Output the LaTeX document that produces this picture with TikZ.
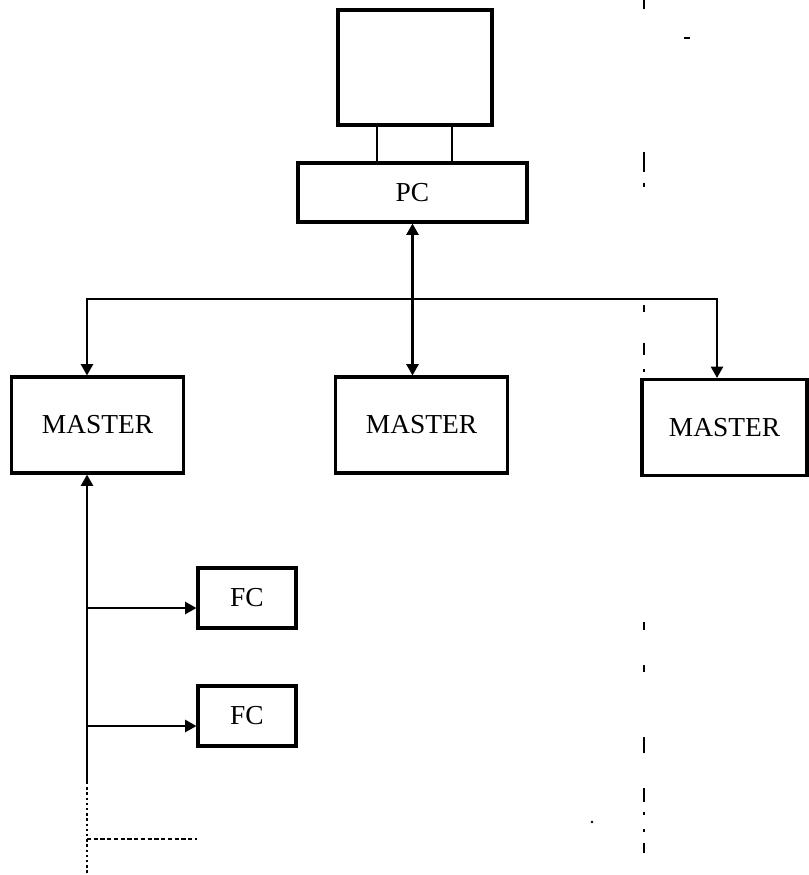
\documentclass[tikz,border=0pt]{standalone}
\usepackage{fontspec}
\setmainfont{Liberation Serif}
\usetikzlibrary{arrows.meta, positioning, calc}

\begin{document}
\begin{tikzpicture}[
    x=0.25mm, y=-0.25mm,
    every node/.style={font=\fontsize{19.5}{22}\selectfont},
    box/.style={rectangle, draw, line width=2.2pt, inner sep=0pt, align=center},
    master/.style={box, minimum width=4.3cm, minimum height=2.4cm},
    fcbox/.style={box, minimum width=2.45cm, minimum height=1.5cm},
    link/.style={line width=1.7pt},
    arrow/.style={link, -{Triangle[length=8pt, width=8.5pt]}},
    dblarrow/.style={link, {Triangle[length=8pt, width=8.5pt]}-{Triangle[length=8pt, width=8.5pt]}},
    scan/.style={line width=1.3pt}
]
\useasboundingbox (0,0) rectangle (809,875);

% ============ PC WITH MONITOR ============
\node[box, minimum width=3.85cm, minimum height=2.875cm] (monitor) at (415,67.5) {};
\node[box, minimum width=5.725cm, minimum height=1.475cm] (pc) at (412.5,192.5) {PC};

% Monitor stand
\coordinate (standL) at ($(monitor.south)+(-38,0)$);
\coordinate (standR) at ($(monitor.south)+(37,0)$);
\draw[link] (standL) -- (standL |- pc.north);
\draw[link] (standR) -- (standR |- pc.north);

% ============ MASTERS ============
\node[master] (m1) at (97.5,425) {MASTER};
\node[master] (m2) at (421.5,425) {MASTER};
\node[master, minimum width=4.125cm] (m3) at (724.5,427.5) {MASTER};

% Bus
\coordinate (busL) at (87,299);
\coordinate (busR) at (717,299);
\draw[dblarrow] (pc.south) -- (pc.south |- m2.north);
\draw[dblarrow] (busL |- m1.north) -- (busL) -- (busR) -- (busR |- m3.north);

% ============ FIELD CONTROLLERS ============
\node[fcbox] (fc1) at (247,598) {FC};
\node[fcbox] (fc2) at (247,716) {FC};

\coordinate (fbus) at (87,782);
\coordinate (in1) at ($(fc1.west)+(0,10)$);
\coordinate (in2) at ($(fc2.west)+(0,10)$);
\draw[arrow] (fbus) -- (fbus |- m1.south);
\draw[arrow] (fbus |- in1) -- (in1);
\draw[arrow] (fbus |- in2) -- (in2);

% Continuation
\coordinate (more) at (87,839);
\draw[link, dotted] (fbus) -- ++(0,91);
\draw[link, dash pattern=on 3pt off 1.8pt] (more) -- ++(110,0);

% Scan marks
\foreach \a/\b in {0/9, 152/172, 183/187, 305/312, 343/355, 369/372, 622/630, 665/672, 737/753, 788/802, 812/815, 829/832, 843/853}
    \draw[scan] (644,\a) -- (644,\b);
\fill (592,822) circle (1.4);
\draw[scan] (684,38) -- (690,38);

\end{tikzpicture}
\end{document}
